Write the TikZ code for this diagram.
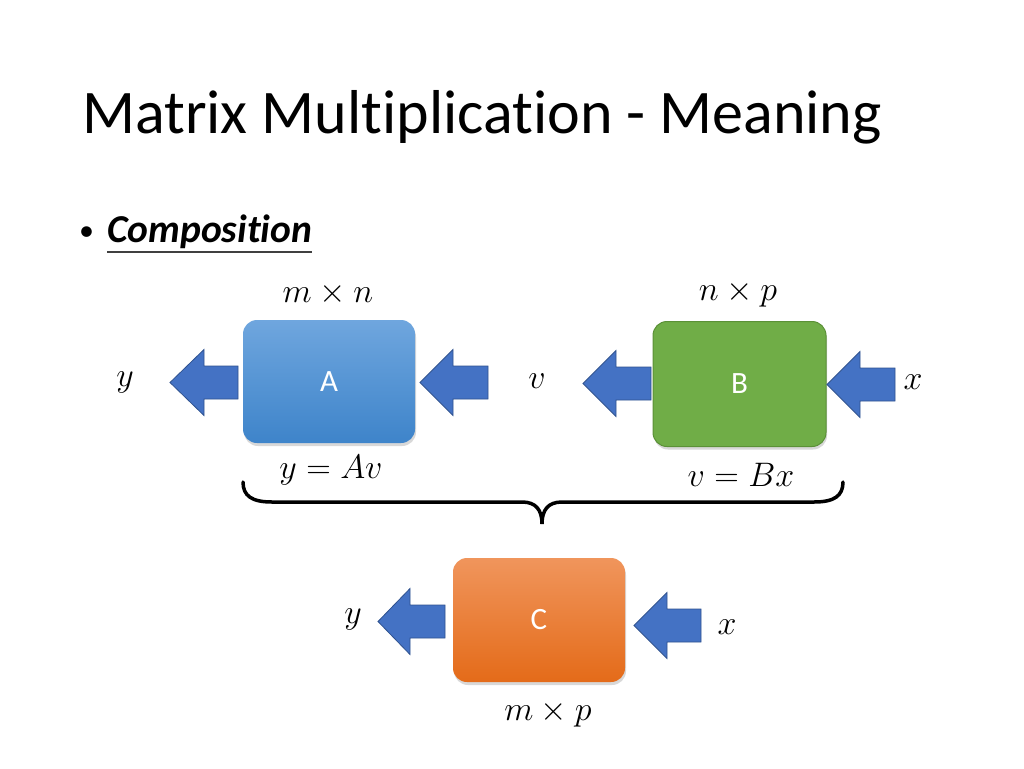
\RequirePackage{fix-cm}
\documentclass[tikz,border=0pt]{standalone}
\usepackage{fontspec}
\setmainfont[Ligatures=NoCommon]{Carlito}
\usetikzlibrary{shadows}
\definecolor{arrowfill}{HTML}{4472C4}
\definecolor{arrowline}{HTML}{2F528F}
\definecolor{atop}{HTML}{6FA6DE}
\definecolor{abot}{HTML}{3E84CA}
\definecolor{bfill}{HTML}{70AD47}
\definecolor{bline}{HTML}{5B9137}
\definecolor{ctop}{HTML}{F0955C}
\definecolor{cbot}{HTML}{E46B19}
\tikzset{
  box/.style={rounded corners=14pt, inner sep=0pt, text=white,
    font=\fontsize{31}{31}\selectfont,
    drop shadow={shadow xshift=1pt, shadow yshift=-3pt, opacity=0.25, fill=black!60}},
  blockarrow/.style={fill=arrowfill, draw=arrowline, line width=0.8pt, line join=miter},
  mathlbl/.style={font=\fontsize{34}{34}\selectfont, inner sep=0pt},
  brace/.style={line width=3.5pt, line cap=round}
}
% #1 tip x, #2 tip y, #3 head back x, #4 body end x (pointing left)
\newcommand{\leftblock}[4]{%
  \draw[blockarrow] (#1,#2) -- (#3,#2-33) -- (#3,#2-16.5) -- (#4,#2-16.5)
    -- (#4,#2+16.5) -- (#3,#2+16.5) -- (#3,#2+33) -- cycle;}
\begin{document}
\begin{tikzpicture}[x=1pt,y=-1pt]
\useasboundingbox[fill=white] (0,0) rectangle (1024,768);
% title
\node[anchor=base west, inner sep=0pt, font=\fontsize{62}{62}\selectfont] (title) at (82,133) {Matrix Multiplication - Meaning};
% bullet
\node[anchor=base west, inner sep=0pt, font=\fontsize{30}{30}\selectfont] (bullet) at (79,240) {•};
\node[anchor=base west, inner sep=0pt, font=\fontsize{39.5}{39.5}\selectfont\bfseries\itshape] (comp) at (107,242) {Composition};
\draw[line width=1.6pt, black!75] (comp.base west) ++(0,10) coordinate (ul1) -- (comp.base east |- ul1);
% boxes
\node[box, minimum width=172pt, minimum height=123pt, top color=atop, bottom color=abot] (A) at (329,381.5) {A};
\node[box, minimum width=173pt, minimum height=125pt, fill=bfill, draw=bline, line width=1pt] (B) at (739.5,384) {B};
\node[box, minimum width=172pt, minimum height=124pt, top color=ctop, bottom color=cbot] (C) at (539,620) {C};
% arrows
\leftblock{170}{382.5}{204}{238}
\leftblock{420}{382.5}{453}{488}
\leftblock{583}{383.5}{616}{651}
\leftblock{827}{384.5}{860}{895}
\leftblock{378}{621.5}{410}{445}
\leftblock{634}{625.5}{667}{701}
% labels
\node[mathlbl] (mn) at (328,294) {$m\times n$};
\node[mathlbl] (np) at (738,294) {$n\times p$};
\node[mathlbl] (ya) at (125,382) {$y$};
\node[mathlbl] (va) at (537,381) {$v$};
\node[mathlbl] (xb) at (913,382) {$x$};
\node[mathlbl] (yav) at (331,470) {$y=Av$};
\node[mathlbl] (vbx) at (741,475) {$v=Bx$};
\node[mathlbl] (yc) at (353,619) {$y$};
\node[mathlbl] (xc) at (727,627) {$x$};
\node[mathlbl] (mp) at (548,714) {$m\times p$};
% brace
\coordinate (bl) at (243,482);
\coordinate (br) at (843,482);
\coordinate (bm) at (542,524);
\draw[brace] (bl) .. controls (243,496) and (252,502) .. (272,502) -- (522,502)
  .. controls (536,502) and (542,510) .. (bm)
  .. controls (542,510) and (548,502) .. (562,502) -- (814,502)
  .. controls (834,502) and (843,496) .. (br);
\end{tikzpicture}
\end{document}
